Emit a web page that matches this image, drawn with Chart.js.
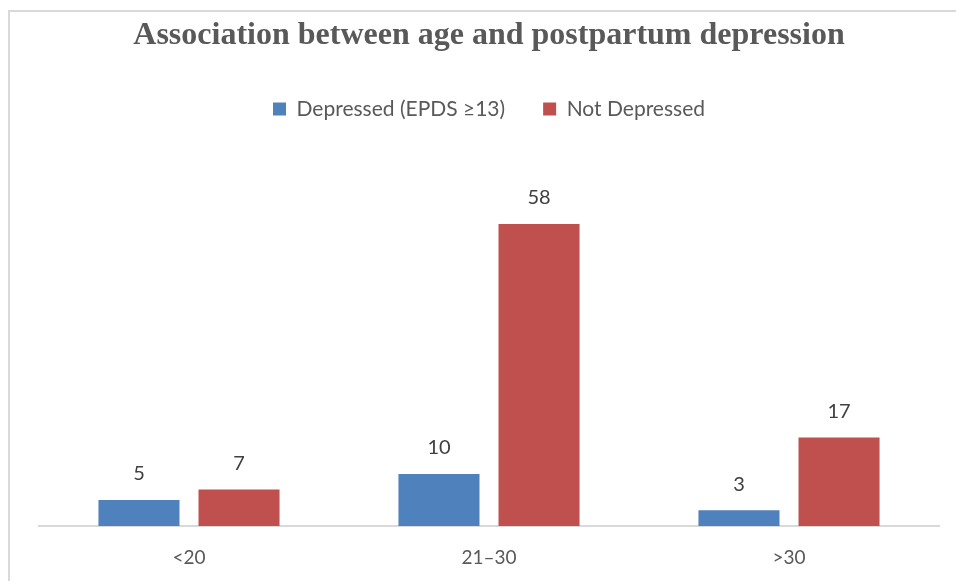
<!DOCTYPE html>
<html>
<head>
<meta charset="utf-8">
<script src="https://cdn.jsdelivr.net/npm/chart.js@4"></script>
<style>
  html, body { margin: 0; padding: 0; background: #ffffff; }
  #wrap { position: relative; width: 956px; height: 581px; overflow: hidden; background: #ffffff; }
  #frame { position: absolute; left: 8px; top: 10px; width: 960px; height: 600px;
           border-top: 2px solid #d9d9d9; border-left: 2px solid #d9d9d9; box-sizing: border-box; pointer-events: none; }
  canvas { position: absolute; left: 0; top: 0; }
</style>
</head>
<body>
<div id="wrap">
  <canvas id="c" width="956" height="581"></canvas>
  <div id="frame"></div>
</div>
<script>
// Age groups and counts per group
const ageGroups = ['<20', '21–30', '>30'];
const depressed = [5, 10, 3];
const notDepressed = [7, 58, 17];
const seriesNames = ['Depressed (EPDS ≥13)', 'Not Depressed'];

const textFont = "Lato, 'Open Sans', sans-serif";

// Writes each bar's value just above it
const valueLabels = {
  id: 'valueLabels',
  afterDatasetsDraw(chart) {
    const ctx = chart.ctx;
    ctx.save();
    ctx.font = '20px ' + textFont;
    ctx.fillStyle = '#404040';
    ctx.textAlign = 'center';
    ctx.textBaseline = 'bottom';
    chart.data.datasets.forEach((ds, i) => {
      chart.getDatasetMeta(i).data.forEach((bar, j) => {
        ctx.fillText(String(ds.data[j]), bar.x, bar.y - 16);
      });
    });
    ctx.restore();
  }
};

// Leaves extra room between the legend row and the plot area
const legendGap = {
  id: 'legendGap',
  afterInit(chart) {
    const legend = chart.legend;
    if (!legend) return;
    const fit = legend.fit;
    legend.fit = function () {
      fit.call(this);
      this.height += 32;
    };
  }
};

new Chart(document.getElementById('c'), {
  type: 'bar',
  data: {
    labels: ageGroups,
    datasets: [
      { label: seriesNames[0], data: depressed, backgroundColor: '#4f81bd' },
      { label: seriesNames[1], data: notDepressed, backgroundColor: '#c0504d' }
    ]
  },
  options: {
    responsive: false,
    animation: false,
    devicePixelRatio: 1,
    categoryPercentage: 0.667,
    barPercentage: 0.81,
    layout: { padding: { left: 39, right: 17, top: 0, bottom: 0 } },
    plugins: {
      title: {
        display: true,
        text: 'Association between age and postpartum depression',
        color: '#595959',
        font: { family: "'Liberation Serif', 'Times New Roman', serif", size: 32, weight: 'bold' },
        padding: { top: 17, bottom: 5 }
      },
      legend: {
        display: true,
        position: 'top',
        labels: {
          color: '#595959',
          font: { family: textFont, size: 21 },
          boxWidth: 13,
          boxHeight: 13,
          padding: 38
        }
      },
      tooltip: { enabled: false }
    },
    scales: {
      x: {
        grid: { display: false, drawTicks: false },
        border: { display: true, color: '#d9d9d9', width: 2 },
        ticks: { color: '#595959', font: { family: textFont, size: 19 }, padding: 20 },
        afterFit(scale) { scale.height = 55; }
      },
      y: {
        display: false,
        min: 0,
        max: 70
      }
    }
  },
  plugins: [valueLabels, legendGap]
});
</script>
</body>
</html>
